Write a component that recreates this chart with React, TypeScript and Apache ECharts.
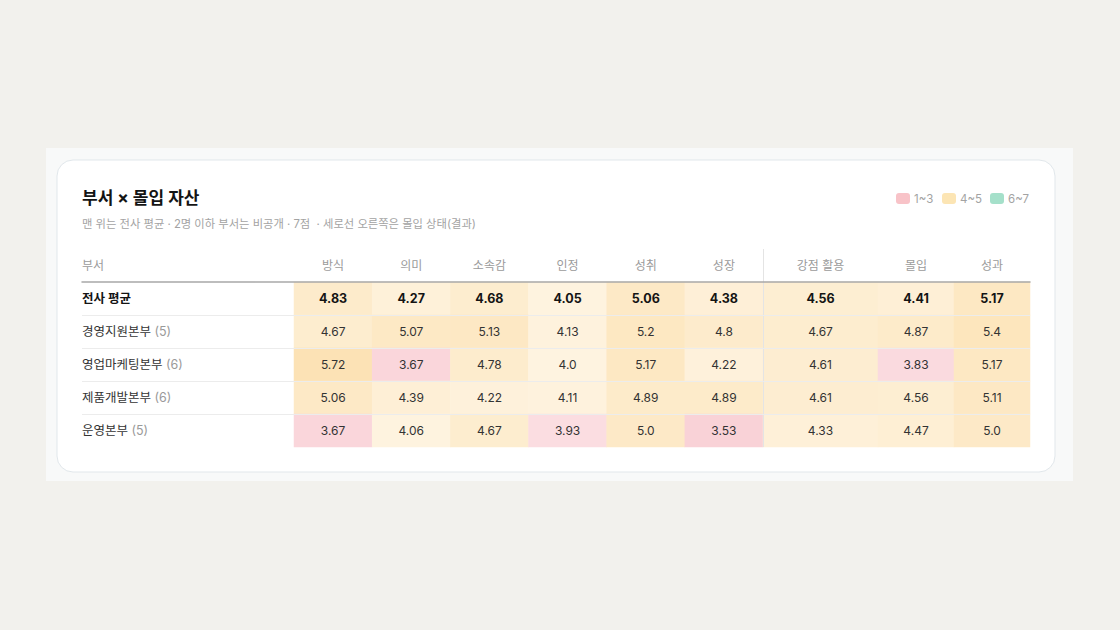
import React, { useEffect, useRef } from "react";
import * as echarts from "echarts";

const rows = ["전사 평균", "경영지원본부", "영업마케팅본부", "제품개발본부", "운영본부"];
const rowCounts: (number | null)[] = [null, 5, 6, 6, 5];
const driverCols = ["방식", "의미", "소속감", "인정", "성취", "성장"];
const stateColA = ["강점 활용"];
const stateColB = ["몰입", "성과"];

const driverValues = [
  [4.83, 4.27, 4.68, 4.05, 5.06, 4.38],
  [4.67, 5.07, 5.13, 4.13, 5.2, 4.8],
  [5.72, 3.67, 4.78, 4.0, 5.17, 4.22],
  [5.06, 4.39, 4.22, 4.11, 4.89, 4.89],
  [3.67, 4.06, 4.67, 3.93, 5.0, 3.53],
];
const strengthValues = [4.56, 4.67, 4.61, 4.61, 4.33];
const stateValues = [
  [4.41, 5.17],
  [4.87, 5.4],
  [3.83, 5.17],
  [4.56, 5.11],
  [4.47, 5.0],
];

const legendItems = ["1~3", "4~5", "6~7"];

const FONT = "Inter, 'Noto Sans CJK KR', 'Noto Sans', sans-serif";

function blend(rgb: number[], a: number): string {
  const c = rgb.map((k) => Math.round(255 - (255 - k) * a));
  return `rgb(${c[0]},${c[1]},${c[2]})`;
}

function cellColor(v: number): string {
  if (v < 4) {
    const a = Math.min(0.6, 0.36 + (4 - v) * 0.3);
    return blend([244, 166, 176], a);
  }
  if (v < 6) {
    const a = 0.27 + (v - 4) * 0.22;
    return blend([251, 211, 141], a);
  }
  const a = 0.3 + (v - 6) * 0.3;
  return blend([110, 210, 170], a);
}

function fmt(v: number): string {
  return Number.isInteger(v) ? v.toFixed(1) : String(v);
}

function cellItem(x: number, y: number, v: number) {
  const bold = y === 0;
  return {
    value: [x, y, v],
    itemStyle: { color: cellColor(v) },
    label: {
      fontWeight: bold ? 700 : 400,
      color: bold ? "#141414" : "#333333",
      fontSize: bold ? 12.5 : 12,
    },
  };
}

export default function App() {
  const ref = useRef<HTMLDivElement>(null);
  useEffect(() => {
    document.body.style.margin = "0";
    const chart = echarts.init(ref.current!, null, { renderer: "svg" });

    const dataA: any[] = [];
    driverValues.forEach((r, y) => r.forEach((v, x) => dataA.push(cellItem(x, y, v))));
    const dataB: any[] = strengthValues.map((v, y) => cellItem(0, y, v));
    const dataC: any[] = [];
    stateValues.forEach((r, y) => r.forEach((v, x) => dataC.push(cellItem(x, y, v))));

    const TOP = 282;
    const H = 165;
    const headerAxis = (data: string[], gridIndex: number) => ({
      type: "category",
      gridIndex,
      data,
      position: "top",
      axisLine: { show: false },
      axisTick: { show: false },
      splitLine: { show: false },
      axisLabel: { color: "#9b9b9b", fontSize: 12, margin: 11, fontFamily: FONT },
    });
    const hiddenY = (gridIndex: number) => ({
      type: "category",
      gridIndex,
      data: rows,
      inverse: true,
      show: false,
    });

    const labelCommon = {
      show: true,
      fontFamily: FONT,
      formatter: (p: any) => fmt(p.value[2]),
    };

    const series: any[] = [
      { type: "heatmap", xAxisIndex: 1, yAxisIndex: 1, data: dataA, label: labelCommon, emphasis: { disabled: true } },
      { type: "heatmap", xAxisIndex: 2, yAxisIndex: 2, data: dataB, label: labelCommon, emphasis: { disabled: true } },
      { type: "heatmap", xAxisIndex: 3, yAxisIndex: 3, data: dataC, label: labelCommon, emphasis: { disabled: true } },
    ];

    const legendColors = ["#f8c3c8", "#fce5b4", "#a5e0ca"];
    const legendX = [896, 942, 990];
    const legendGraphics: any[] = [];
    legendItems.forEach((t, i) => {
      legendGraphics.push({
        type: "rect",
        shape: { x: legendX[i], y: 193, width: 14, height: 11, r: 3 },
        style: { fill: legendColors[i] },
        z: 10,
      });
      legendGraphics.push({
        type: "text",
        x: legendX[i] + 18,
        y: 198.5,
        style: { text: t, fill: "#a3a3a3", fontSize: 11.5, fontFamily: FONT, verticalAlign: "middle" },
        z: 10,
      });
    });

    chart.setOption({
      animation: false,
      backgroundColor: "#f2f1ed",
      textStyle: { fontFamily: FONT },
      visualMap: {
        type: "continuous",
        show: false,
        min: 0,
        max: 10,
        dimension: 2,
        seriesIndex: [0, 1, 2],
        inRange: { opacity: [1, 1] },
      },
      grid: [
        { left: 82, width: 948, top: TOP, height: H },
        { left: 294, width: 469, top: TOP, height: H },
        { left: 763, width: 115, top: TOP, height: H },
        { left: 878, width: 152, top: TOP, height: H },
      ],
      xAxis: [
        {
          type: "category",
          gridIndex: 0,
          data: [""],
          position: "top",
          z: 10,
          axisLine: { show: true, lineStyle: { color: "#a8a8a8", width: 1.5 } },
          axisTick: { show: false },
          axisLabel: { show: false },
          splitLine: { show: false },
        },
        headerAxis(driverCols, 1),
        headerAxis(stateColA, 2),
        headerAxis(stateColB, 3),
      ],
      yAxis: [
        {
          type: "category",
          gridIndex: 0,
          data: rows,
          inverse: true,
          z: 10,
          axisLine: { show: false },
          axisTick: { show: false },
          splitLine: {
            show: true,
            showMinLine: false,
            showMaxLine: false,
            lineStyle: { color: "#ececec", width: 1 },
          },
          axisLabel: {
            inside: true,
            margin: 0,
            align: "left",
            fontFamily: FONT,
            formatter: (v: string, i: number) => {
              const c = rowCounts[i];
              if (c == null) return `{b|${v}}`;
              return `{n|${v}} {c|(${c})}`;
            },
            rich: {
              b: { fontWeight: 700, fontSize: 12.5, color: "#141414", fontFamily: FONT },
              n: { fontSize: 12.5, color: "#333333", fontFamily: FONT },
              c: { fontSize: 12.5, color: "#9a9a9a", fontFamily: FONT },
            },
          },
        },
        hiddenY(1),
        hiddenY(2),
        hiddenY(3),
      ],
      series,
      graphic: [
        { type: "rect", shape: { x: 46, y: 148, width: 1027, height: 333 }, style: { fill: "#f8f9f9" }, z: -20 },
        {
          type: "rect",
          shape: { x: 57, y: 160, width: 998, height: 312, r: 16 },
          style: { fill: "#ffffff", stroke: "#e1e7eb", lineWidth: 1 },
          z: -10,
        },
        {
          type: "text",
          x: 82,
          y: 198,
          style: { text: "부서 × 몰입 자산", fill: "#141414", fontSize: 17, fontWeight: 700, fontFamily: FONT, verticalAlign: "middle" },
          z: 10,
        },
        {
          type: "text",
          x: 82,
          y: 224,
          style: {
            text: "맨 위는 전사 평균 · 2명 이하 부서는 비공개 · 7점 \u00a0· 세로선 오른쪽은 몰입 상태(결과)",
            fill: "#a3a3a3",
            fontSize: 11.3,
            fontFamily: FONT,
            verticalAlign: "middle",
          },
          z: 10,
        },
        {
          type: "text",
          x: 82,
          y: 265,
          style: { text: "부서", fill: "#9b9b9b", fontSize: 12, fontFamily: FONT, verticalAlign: "middle" },
          z: 10,
        },
        {
          type: "line",
          shape: { x1: 763.5, y1: 249, x2: 763.5, y2: 447 },
          style: { stroke: "#e4e4e4", lineWidth: 1 },
          z: 10,
        },
        ...legendGraphics,
      ],
    });
    return () => chart.dispose();
  }, []);
  return <div ref={ref} style={{ width: 1120, height: 630, position: "absolute", left: 0, top: 0 }} />;
}
